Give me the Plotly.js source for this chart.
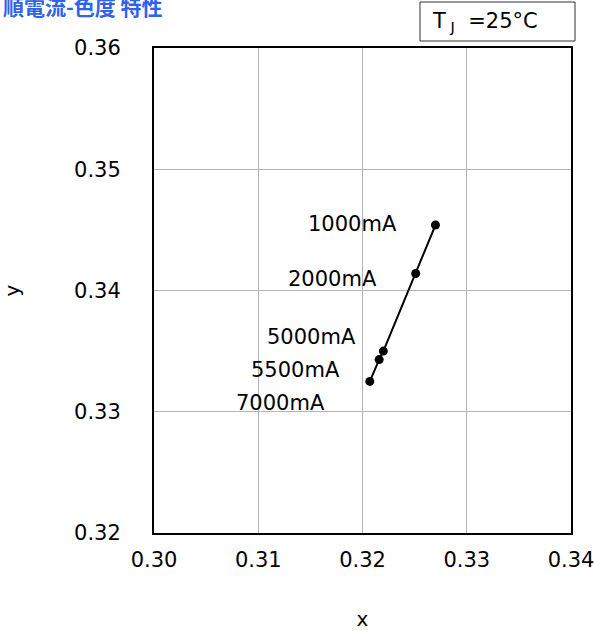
<!DOCTYPE html>
<html>
<head>
<meta charset="utf-8">
<script src="https://cdn.plot.ly/plotly-3.0.1.min.js"></script>
<style>
  html, body { margin: 0; padding: 0; background: #fff; }
  #chart { width: 594px; height: 631px; }
</style>
</head>
<body>
<div id="chart"></div>
<script>
// Forward current vs. chromaticity (CIE x, y) at Tj = 25 °C
const currents = ['1000mA', '2000mA', '5000mA', '5500mA', '7000mA'];
const cieX = [0.3270, 0.3251, 0.3220, 0.3216, 0.3207];
const cieY = [0.3454, 0.3414, 0.3350, 0.3343, 0.3325];

// label offsets (px) relative to each point
const labelDx = [-36, -37, -25, -37, -43];
const labelDy = [1, -5, 14, -10, -22];

const font = 'DejaVu Sans, Verdana, sans-serif';
const fs = 21;

const trace = {
  x: cieX,
  y: cieY,
  mode: 'lines+markers',
  type: 'scatter',
  line: { color: '#000', width: 2 },
  marker: { color: '#000', size: 9 },
  hoverinfo: 'skip',
  showlegend: false
};

const pointLabels = currents.map((c, i) => ({
  x: cieX[i], y: cieY[i], xref: 'x', yref: 'y',
  text: c, showarrow: false,
  xanchor: 'right', yanchor: 'middle',
  xshift: labelDx[i], yshift: labelDy[i],
  font: { family: font, size: fs, color: '#000' }
}));

const layout = {
  width: 594, height: 631,
  margin: { l: 154, r: 23, t: 48, b: 98 },
  paper_bgcolor: '#fff',
  plot_bgcolor: '#fff',
  font: { family: font, size: fs, color: '#000' },
  xaxis: {
    range: [0.30, 0.34],
    tickvals: [0.30, 0.31, 0.32, 0.33, 0.34],
    ticktext: ['0.30', '0.31', '0.32', '0.33', '0.34'],
    showgrid: true, gridcolor: '#b4b4b4', gridwidth: 1,
    showline: true, linecolor: '#000', linewidth: 2, mirror: true,
    ticks: '', zeroline: false,
    ticklabelstandoff: 7,
    ticklabeloverflow: 'allow',
    tickfont: { family: font, size: fs, color: '#000' },
    title: { text: 'x', font: { family: font, size: fs - 1, color: '#000' }, standoff: 41 }
  },
  yaxis: {
    range: [0.32, 0.36],
    tickvals: [0.32, 0.33, 0.34, 0.35, 0.36],
    ticktext: ['0.32', '0.33', '0.34', '0.35', '0.36'],
    showgrid: true, gridcolor: '#b4b4b4', gridwidth: 1,
    showline: true, linecolor: '#000', linewidth: 2, mirror: true,
    ticks: '', zeroline: false,
    ticklabelstandoff: 27,
    ticklabeloverflow: 'allow',
    tickfont: { family: font, size: fs, color: '#000' },
    title: { text: 'y', font: { family: font, size: fs - 1, color: '#000' }, standoff: 50 }
  },
  shapes: [{
    type: 'rect', xref: 'paper', yref: 'paper',
    x0: (420 - 154) / 417, x1: (575 - 154) / 417,
    y0: 1 + (48 - 41) / 485, y1: 1 + (48 - 2) / 485,
    line: { color: '#333', width: 1 }, fillcolor: 'rgba(0,0,0,0)'
  }],
  annotations: pointLabels.concat([
    {
      xref: 'paper', yref: 'paper',
      x: (165 - 154) / 417, y: 1 + (48 - 6) / 485,
      xanchor: 'right', yanchor: 'middle',
      text: '<b>順電流-色度 特性</b>', showarrow: false,
      font: { family: 'Noto Sans CJK JP, sans-serif', size: 21, color: '#2f62ee' }
    },
    {
      xref: 'paper', yref: 'paper',
      x: (430 - 154) / 417, y: 1 + (48 - 22) / 485,
      xanchor: 'left', yanchor: 'middle',
      text: 'T<sub> J</sub>  =25°C', showarrow: false,
      font: { family: font, size: fs, color: '#000' }
    }
  ])
};

Plotly.newPlot('chart', [trace], layout, { displayModeBar: false, staticPlot: true });
</script>
</body>
</html>
